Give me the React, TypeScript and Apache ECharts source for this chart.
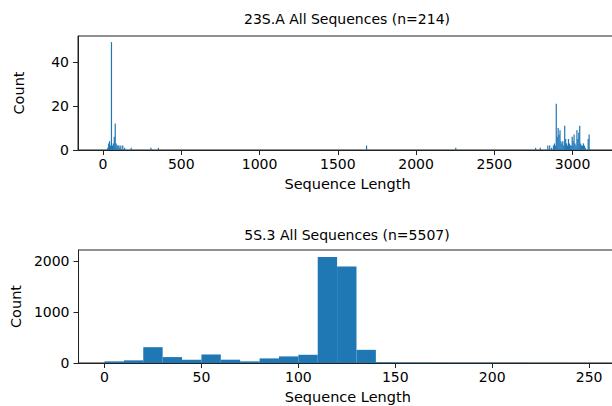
import React, { useEffect, useRef } from "react";
import * as echarts from "echarts";

const topTitle = "23S.A All Sequences (n=214)";
const bottomTitle = "5S.3 All Sequences (n=5507)";
const xAxisName = "Sequence Length";
const yAxisName = "Count";

const topBinWidth = 6;
const topLengths = [
  26, 32, 38, 44, 50, 56, 62, 68, 74, 80, 86, 92, 98, 104, 110, 122, 134, 176, 302, 350,
  1680, 2250,
  2760, 2790, 2838, 2850, 2862, 2874, 2880, 2886, 2892, 2898, 2904, 2910, 2916, 2922,
  2928, 2934, 2940, 2946, 2952, 2958, 2964, 2970, 2976, 2982, 2988, 2994, 3000, 3006,
  3012, 3018, 3024, 3030, 3036, 3042, 3048, 3054, 3060, 3066, 3072, 3078, 3096, 3102,
];
const topCounts = [
  1, 3, 4, 2, 49, 2, 3, 6, 12, 3, 2, 2, 2, 1, 2, 2, 1, 1, 1, 1,
  2, 1,
  1, 1, 2, 2, 1, 2, 3, 2, 21, 6, 10, 7, 9, 4,
  3, 4, 2, 11, 5, 3, 2, 5, 3, 2, 2, 6, 4, 7,
  3, 2, 9, 5, 8, 11, 3, 2, 2, 3, 2, 1, 5, 7,
];
const topXTicks = [0, 500, 1000, 1500, 2000, 2500, 3000];
const topYTicks = [0, 20, 40];

const bottomBinWidth = 10;
const bottomEdges = [0, 10, 20, 30, 40, 50, 60, 70, 80, 90, 100, 110, 120, 130, 140, 150, 160, 170, 180, 190, 200, 210, 220, 230, 240, 250];
const bottomCounts = [32, 52, 310, 116, 65, 168, 65, 32, 90, 129, 161, 2077, 1890, 258, 12, 9, 7, 6, 5, 5, 4, 4, 3, 3, 2, 2];
const bottomXTicks = [0, 50, 100, 150, 200, 250];
const bottomYTicks = [0, 1000, 2000];

const barColor = "#1f77b4";
const font = "DejaVu Sans";

function histItem(params: any, api: any) {
  const x0 = api.value(0);
  const x1 = api.value(1);
  const y = api.value(2);
  const p0 = api.coord([x0, y]);
  const p1 = api.coord([x1, 0]);
  return {
    type: "rect",
    shape: { x: p0[0], y: p0[1], width: Math.max(p1[0] - p0[0], 1.2), height: p1[1] - p0[1] },
    style: { fill: barColor },
  };
}

const plain = (v: number) => String(v);

function xAxisCfg(gridIndex: number, min: number, max: number, ticks: number[]) {
  return {
    type: "value",
    gridIndex,
    min,
    max,
    name: xAxisName,
    nameLocation: "middle",
    nameGap: 26,
    nameTextStyle: { color: "#000", fontSize: 14.5, fontFamily: font },
    axisLine: { show: true, onZero: false, lineStyle: { color: "#222", width: 1 } },
    axisTick: { show: true, length: 5, customValues: ticks, lineStyle: { color: "#222" } },
    axisLabel: { customValues: ticks, formatter: plain, color: "#000", fontSize: 14, fontFamily: font, margin: 7 },
    splitLine: { show: false },
  };
}

function yAxisCfg(gridIndex: number, max: number, ticks: number[]) {
  return {
    type: "value",
    gridIndex,
    min: 0,
    max,
    name: yAxisName,
    nameLocation: "middle",
    nameGap: 52,
    nameTextStyle: { color: "#000", fontSize: 14.5, fontFamily: font },
    axisLine: { show: true, onZero: false, lineStyle: { color: "#222", width: 1 } },
    axisTick: { show: true, length: 5, customValues: ticks, lineStyle: { color: "#222" } },
    axisLabel: { customValues: ticks, formatter: plain, color: "#000", fontSize: 14, fontFamily: font, margin: 9 },
    splitLine: { show: false },
  };
}

export default function App() {
  const ref = useRef<HTMLDivElement>(null);
  useEffect(() => {
    if (!ref.current) return;
    const chart = echarts.init(ref.current, null, { renderer: "svg" });
    const topData = topLengths.map((s, i) => [s, s + topBinWidth, topCounts[i]]);
    const bottomData = bottomEdges.map((s, i) => [s, s + bottomBinWidth, bottomCounts[i]]);
    chart.setOption({
      animation: false,
      backgroundColor: "#fff",
      title: [
        {
          text: topTitle,
          left: "center",
          top: 12,
          padding: 0,
          textStyle: { color: "#000", fontSize: 14, fontWeight: "normal", fontFamily: font },
        },
        {
          text: bottomTitle,
          left: "center",
          top: 228,
          padding: 0,
          textStyle: { color: "#000", fontSize: 14, fontWeight: "normal", fontFamily: font },
        },
      ],
      grid: [
        { left: 78, top: 36, width: 539, height: 114, show: true, borderColor: "#222", borderWidth: 1, backgroundColor: "transparent" },
        { left: 78, top: 250, width: 539, height: 113, show: true, borderColor: "#222", borderWidth: 1, backgroundColor: "transparent" },
      ],
      xAxis: [xAxisCfg(0, -160, 3284, topXTicks), xAxisCfg(1, -13.4, 264.4, bottomXTicks)],
      yAxis: [yAxisCfg(0, 51.8, topYTicks), yAxisCfg(1, 2216, bottomYTicks)],
      series: [
        {
          type: "custom",
          xAxisIndex: 0,
          yAxisIndex: 0,
          renderItem: histItem,
          encode: { x: [0, 1], y: 2 },
          data: topData,
        },
        {
          type: "custom",
          xAxisIndex: 1,
          yAxisIndex: 1,
          renderItem: histItem,
          encode: { x: [0, 1], y: 2 },
          data: bottomData,
        },
      ],
    });
    return () => chart.dispose();
  }, []);
  return (
    <div
      ref={ref}
      style={{ position: "fixed", left: 0, top: 0, width: 694, height: 406 }}
    />
  );
}
